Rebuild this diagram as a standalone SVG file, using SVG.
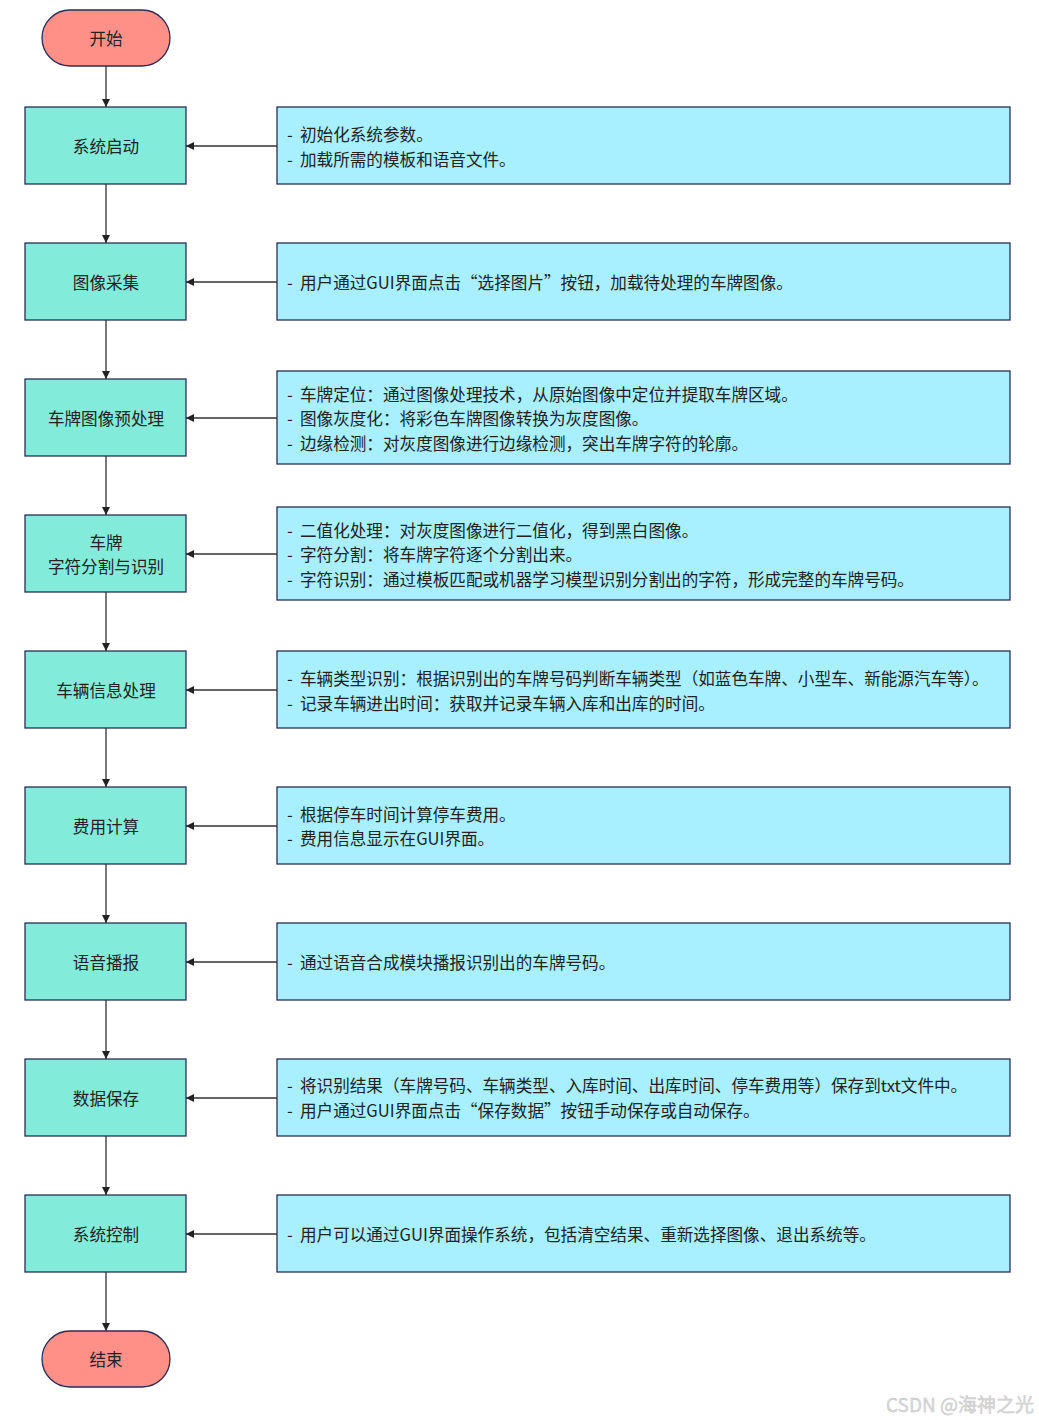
<svg xmlns="http://www.w3.org/2000/svg" width="1039" height="1420" viewBox="0 0 1039 1420">
<style>
text{font-family:"Noto Sans CJK SC","Noto Sans",sans-serif;font-size:16.6px;fill:#222;dominant-baseline:central}
.term{fill:#FF9088;stroke:#2B2D55;stroke-width:1.3}
.step{fill:#83EBDA;stroke:#2B2D55;stroke-width:1.3}
.note{fill:#A8F0FF;stroke:#2B2D55;stroke-width:1.3}
.c{text-anchor:middle}
.conn line{stroke:#333;stroke-width:1.3;marker-end:url(#ah)}
</style>
<defs>
<marker id="ah" viewBox="0 0 10 10" refX="10" refY="5" markerWidth="8" markerHeight="8" markerUnits="userSpaceOnUse" orient="auto">
<path d="M0,0 L10,5 L0,10 Z" fill="#222"/>
</marker>
</defs>
<rect width="1039" height="1420" fill="#fff"/>

<g id="start"><rect class="term" x="42" y="10" width="128" height="56" rx="28"/><text class="c" x="106" y="38">开始</text></g>

<g id="s1"><rect class="step" x="25" y="107" width="161" height="77"/><text class="c" x="106" y="146">系统启动</text></g>
<g id="n1"><rect class="note" x="277" y="107" width="733" height="77"/><text x="287" y="134">-<tspan x="300">初始化系统参数。</tspan></text><text x="287" y="159">-<tspan x="300">加载所需的模板和语音文件。</tspan></text></g>

<g id="s2"><rect class="step" x="25" y="243" width="161" height="77"/><text class="c" x="106" y="282">图像采集</text></g>
<g id="n2"><rect class="note" x="277" y="243" width="733" height="77"/><text x="287" y="282">-<tspan x="300">用户通过GUI界面点击“选择图片”按钮，加载待处理的车牌图像。</tspan></text></g>

<g id="s3"><rect class="step" x="25" y="379" width="161" height="77"/><text class="c" x="106" y="418">车牌图像预处理</text></g>
<g id="n3"><rect class="note" x="277" y="371" width="733" height="93"/><text x="287" y="394">-<tspan x="300">车牌定位：通过图像处理技术，从原始图像中定位并提取车牌区域。</tspan></text><text x="287" y="418">-<tspan x="300">图像灰度化：将彩色车牌图像转换为灰度图像。</tspan></text><text x="287" y="443">-<tspan x="300">边缘检测：对灰度图像进行边缘检测，突出车牌字符的轮廓。</tspan></text></g>

<g id="s4"><rect class="step" x="25" y="515" width="161" height="77"/><text class="c" x="106" y="542">车牌</text><text class="c" x="106" y="566">字符分割与识别</text></g>
<g id="n4"><rect class="note" x="277" y="507" width="733" height="93"/><text x="287" y="530">-<tspan x="300">二值化处理：对灰度图像进行二值化，得到黑白图像。</tspan></text><text x="287" y="554">-<tspan x="300">字符分割：将车牌字符逐个分割出来。</tspan></text><text x="287" y="579">-<tspan x="300">字符识别：通过模板匹配或机器学习模型识别分割出的字符，形成完整的车牌号码。</tspan></text></g>

<g id="s5"><rect class="step" x="25" y="651" width="161" height="77"/><text class="c" x="106" y="690">车辆信息处理</text></g>
<g id="n5"><rect class="note" x="277" y="651" width="733" height="77"/><text x="287" y="678">-<tspan x="300">车辆类型识别：根据识别出的车牌号码判断车辆类型（如蓝色车牌、小型车、新能源汽车等）。</tspan></text><text x="287" y="703">-<tspan x="300">记录车辆进出时间：获取并记录车辆入库和出库的时间。</tspan></text></g>

<g id="s6"><rect class="step" x="25" y="787" width="161" height="77"/><text class="c" x="106" y="826">费用计算</text></g>
<g id="n6"><rect class="note" x="277" y="787" width="733" height="77"/><text x="287" y="814">-<tspan x="300">根据停车时间计算停车费用。</tspan></text><text x="287" y="838">-<tspan x="300">费用信息显示在GUI界面。</tspan></text></g>

<g id="s7"><rect class="step" x="25" y="923" width="161" height="77"/><text class="c" x="106" y="962">语音播报</text></g>
<g id="n7"><rect class="note" x="277" y="923" width="733" height="77"/><text x="287" y="962">-<tspan x="300">通过语音合成模块播报识别出的车牌号码。</tspan></text></g>

<g id="s8"><rect class="step" x="25" y="1059" width="161" height="77"/><text class="c" x="106" y="1098">数据保存</text></g>
<g id="n8"><rect class="note" x="277" y="1059" width="733" height="77"/><text x="287" y="1085">-<tspan x="300">将识别结果（车牌号码、车辆类型、入库时间、出库时间、停车费用等）保存到txt文件中。</tspan></text><text x="287" y="1110">-<tspan x="300">用户通过GUI界面点击“保存数据”按钮手动保存或自动保存。</tspan></text></g>

<g id="s9"><rect class="step" x="25" y="1195" width="161" height="77"/><text class="c" x="106" y="1234">系统控制</text></g>
<g id="n9"><rect class="note" x="277" y="1195" width="733" height="77"/><text x="287" y="1234">-<tspan x="300">用户可以通过GUI界面操作系统，包括清空结果、重新选择图像、退出系统等。</tspan></text></g>

<g id="end"><rect class="term" x="42" y="1331" width="128" height="56" rx="28"/><text class="c" x="106" y="1359">结束</text></g>

<g id="connectors" class="conn">
<line x1="106" y1="66" x2="106" y2="107"/>
<line x1="106" y1="184" x2="106" y2="243"/>
<line x1="106" y1="320" x2="106" y2="379"/>
<line x1="106" y1="456" x2="106" y2="515"/>
<line x1="106" y1="592" x2="106" y2="651"/>
<line x1="106" y1="728" x2="106" y2="787"/>
<line x1="106" y1="864" x2="106" y2="923"/>
<line x1="106" y1="1000" x2="106" y2="1059"/>
<line x1="106" y1="1136" x2="106" y2="1195"/>
<line x1="106" y1="1272" x2="106" y2="1331"/>
<line x1="277" y1="146" x2="186" y2="146"/>
<line x1="277" y1="282" x2="186" y2="282"/>
<line x1="277" y1="418" x2="186" y2="418"/>
<line x1="277" y1="554" x2="186" y2="554"/>
<line x1="277" y1="690" x2="186" y2="690"/>
<line x1="277" y1="826" x2="186" y2="826"/>
<line x1="277" y1="962" x2="186" y2="962"/>
<line x1="277" y1="1098" x2="186" y2="1098"/>
<line x1="277" y1="1234" x2="186" y2="1234"/>
</g>

<text x="1034" y="1403" style="font-size:19px;fill:#dadada;text-anchor:end;stroke:#c4c4c4;stroke-width:0.4">CSDN @海神之光</text>
</svg>
